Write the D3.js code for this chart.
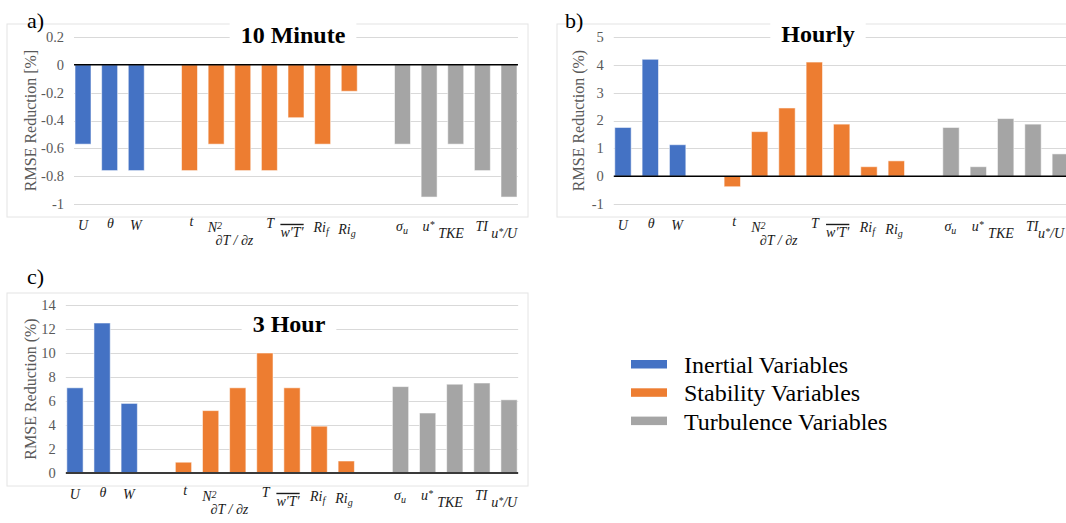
<!DOCTYPE html>
<html>
<head>
<meta charset="utf-8">
<script src="https://cdn.jsdelivr.net/npm/d3@7"></script>
<style>
  body { margin: 0; background: #fff; }
  svg { display: block; font-family: "Liberation Serif", "Times New Roman", serif; }
</style>
</head>
<body>
<div id="chart"></div>
<script>
// variables on the x axis, in order, and the group each one belongs to
const variables = ["U", "θ", "W", "t", "N2", "dTdz", "T", "wT", "Rif", "Rig", "su", "ustar", "TKE", "TI", "ustarU"];
const groups = ["Inertial", "Inertial", "Inertial",
    "Stability", "Stability", "Stability", "Stability", "Stability", "Stability", "Stability",
    "Turbulence", "Turbulence", "Turbulence", "Turbulence", "Turbulence"];
const groupNames = ["Inertial", "Stability", "Turbulence"];
const legendLabels = ["Inertial Variables", "Stability Variables", "Turbulence Variables"];

// RMSE reduction per variable
const tenMinute = [-0.57, -0.76, -0.76, -0.76, -0.57, -0.76, -0.76, -0.38, -0.57, -0.19, -0.57, -0.95, -0.57, -0.76, -0.95];
const hourly = [1.75, 4.2, 1.13, -0.38, 1.6, 2.45, 4.1, 1.87, 0.34, 0.55, 1.75, 0.34, 2.07, 1.87, 0.8];
const threeHour = [7.1, 12.5, 5.8, 0.9, 5.2, 7.1, 10.0, 7.1, 3.9, 1.0, 7.2, 5.0, 7.4, 7.5, 6.1];

const tenMinuteTicks = [-1, -0.8, -0.6, -0.4, -0.2, 0, 0.2];
const hourlyTicks = [-1, 0, 1, 2, 3, 4, 5];
const threeHourTicks = [0, 2, 4, 6, 8, 10, 12, 14];

const color = d3.scaleOrdinal()
    .domain(groupNames)
    .range(["#4472C4", "#ED7D31", "#A5A5A5"]);

// band domain with one empty slot between groups
const slots = [];
variables.forEach((v, i) => {
    if (i > 0 && groups[i] !== groups[i - 1]) slots.push("gap" + i);
    slots.push(v);
});

// pieces of each category label: [text, kind] kind: sup, sub, over
const labelParts = {
    U: [["U"]], "θ": [["θ"]], W: [["W"]], t: [["t"]],
    N2: [["N"], ["2", "sup"]],
    dTdz: [["∂T / ∂z"]],
    T: [["T"]],
    wT: [["w′T′", "over"]],
    Rif: [["Ri"], ["f", "sub"]],
    Rig: [["Ri"], ["g", "sub"]],
    su: [["σ"], ["u", "sub"]],
    ustar: [["u"], ["*", "sup"]],
    TKE: [["TKE"]], TI: [["TI"]],
    ustarU: [["u"], ["*", "sup"], ["/U"]]
};

const width = 1066, height = 523;
const svg = d3.create("svg")
    .attr("width", width)
    .attr("height", height)
    .attr("viewBox", [0, 0, width, height]);
document.getElementById("chart").appendChild(svg.node());

const panels = [
    { tag: "a)", tagX: 27, tagY: 28, title: "10 Minute", titleX: 293, titleY: 43,
      values: tenMinute, ticks: tenMinuteTicks, yTitle: "RMSE Reduction [%]",
      box: [7, 24, 528, 217], xr: [69.7, 522.3], yr: [204, 37], yTitleX: 36, labelY: 219 },
    { tag: "b)", tagX: 565, tagY: 28, title: "Hourly", titleX: 818, titleY: 42,
      values: hourly, ticks: hourlyTicks, yTitle: "RMSE Reduction (%)",
      box: [557, 24, 1080, 217], xr: [609.3, 1074], yr: [204, 37], yTitleX: 584, labelY: 219 },
    { tag: "c)", tagX: 27, tagY: 284, title: "3 Hour", titleX: 289, titleY: 332,
      values: threeHour, ticks: threeHourTicks, yTitle: "RMSE Reduction (%)",
      box: [7, 293, 528, 486], xr: [61.4, 522.6], yr: [473, 305], yTitleX: 36, labelY: 488, zeroDark: true }
];

panels.forEach(p => {
    const g = svg.append("g");

    g.append("rect")
        .attr("x", p.box[0]).attr("y", p.box[1])
        .attr("width", p.box[2] - p.box[0]).attr("height", p.box[3] - p.box[1])
        .attr("fill", "none").attr("stroke", "#e4e4e4");

    const x = d3.scaleBand().domain(slots).range(p.xr).paddingInner(0.4).paddingOuter(0.2);
    const y = d3.scaleLinear().domain(d3.extent(p.ticks)).range(p.yr);

    const gx0 = x(variables[0]) - 1;
    const gx1 = x(variables[variables.length - 1]) + x.bandwidth() + 1;

    // gridlines
    g.append("g").selectAll("line")
        .data(p.ticks.filter(t => t !== 0))
        .join("line")
        .attr("x1", gx0).attr("x2", gx1)
        .attr("y1", d => Math.round(y(d)) + 0.5).attr("y2", d => Math.round(y(d)) + 0.5)
        .attr("stroke", "#d9d9d9");

    // tick labels
    g.append("g").selectAll("text")
        .data(p.ticks)
        .join("text")
        .attr("x", gx0 - 10)
        .attr("y", d => y(d))
        .attr("dy", "0.34em")
        .attr("text-anchor", "end")
        .attr("fill", "#595959")
        .style("font-size", "14.5px")
        .text(d => String(d));

    g.append("text")
        .attr("transform", `translate(${p.yTitleX},${(p.yr[0] + p.yr[1]) / 2}) rotate(-90)`)
        .attr("text-anchor", "middle")
        .attr("fill", "#595959")
        .style("font-size", "16px")
        .text(p.yTitle);

    // bars
    g.append("g").selectAll("rect")
        .data(variables.map((v, i) => ({ v, group: groups[i], value: p.values[i] })))
        .join("rect")
        .attr("x", d => x(d.v))
        .attr("width", x.bandwidth())
        .attr("y", d => y(Math.max(0, d.value)))
        .attr("height", d => Math.abs(y(d.value) - y(0)))
        .attr("fill", d => color(d.group))
        .attr("stroke", "rgba(255,255,255,0.55)")
        .attr("stroke-width", 1);

    // zero line
    g.append("line")
        .attr("x1", gx0).attr("x2", gx1)
        .attr("y1", y(0)).attr("y2", y(0))
        .attr("stroke", p.zeroDark ? "#3a3a3a" : "#000")
        .attr("stroke-width", p.zeroDark ? 2.2 : 1.5);

    // category labels: upright, stepped down-left the way a slanted
    // label ending at the bar centre would run, so long ones don't collide
    const labels = g.append("g").selectAll("text")
        .data(variables)
        .join("text")
        .attr("text-anchor", "middle")
        .attr("fill", "#1a1a1a")
        .style("font-size", "14px")
        .style("font-style", "italic");
    labels.each(function (d) {
        const t = d3.select(this);
        labelParts[d].forEach(([s, kind]) => {
            const ts = t.append("tspan").text(s);
            if (kind === "sup") ts.attr("baseline-shift", "35%").style("font-size", "10px");
            if (kind === "sub") ts.attr("baseline-shift", "-25%").style("font-size", "10px");
            if (kind === "over") ts.style("text-decoration", "overline");
        });
        const len = this.getComputedTextLength();
        const ax = x(d) + x.bandwidth() / 2 + 3;
        const cxl = Math.min(ax - len * 0.3, width - 2 - len / 2);
        t.attr("x", cxl).attr("y", p.labelY + len * 0.55 + 5);
    });

    // title with white box behind it
    const titleBox = g.append("rect").attr("fill", "#fff");
    const title = g.append("text")
        .attr("x", p.titleX).attr("y", p.titleY)
        .attr("text-anchor", "middle")
        .style("font-size", "24px")
        .style("font-weight", "bold")
        .text(p.title);
    const tw = title.node().getComputedTextLength();
    titleBox
        .attr("x", p.titleX - tw / 2 - 11)
        .attr("y", p.titleY - 25)
        .attr("width", tw + 22)
        .attr("height", 34);

    g.append("text")
        .attr("x", p.tagX).attr("y", p.tagY)
        .style("font-size", "22px")
        .text(p.tag);
});

// legend
const legend = svg.append("g").attr("transform", "translate(631,373)");
groupNames.forEach((name, i) => {
    const row = legend.append("g").attr("transform", `translate(0,${i * 28.3})`);
    row.append("rect")
        .attr("x", 0).attr("y", -13)
        .attr("width", 36).attr("height", 8.5)
        .attr("fill", color(name));
    row.append("text")
        .attr("x", 53).attr("y", 0)
        .style("font-size", "24px")
        .text(legendLabels[i]);
});
</script>
</body>
</html>
